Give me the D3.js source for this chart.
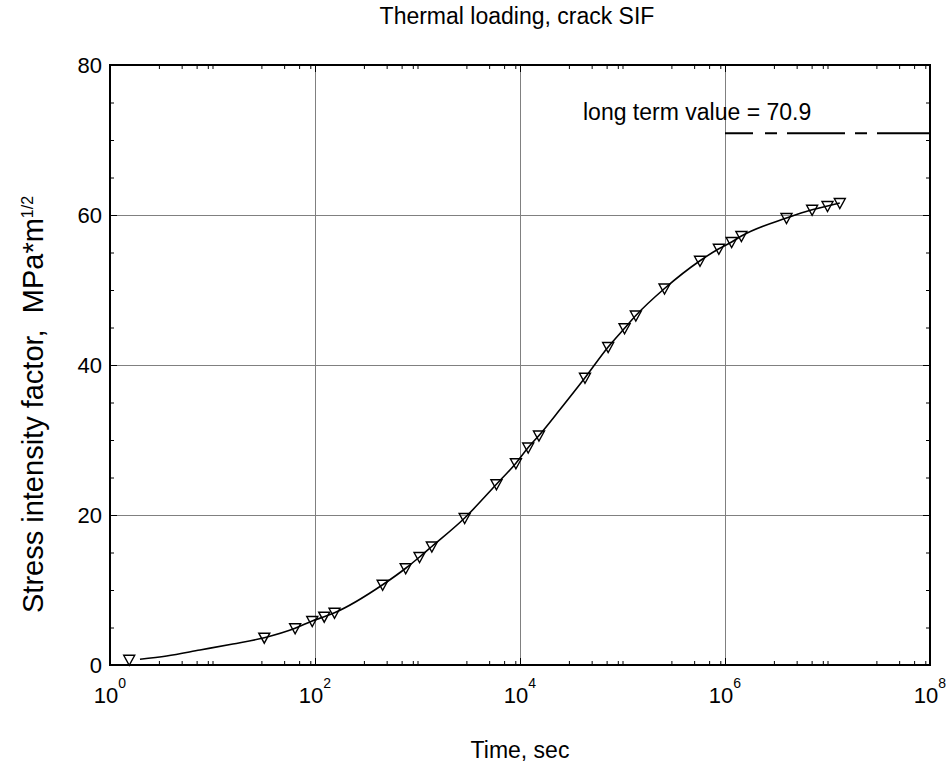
<!DOCTYPE html>
<html>
<head>
<meta charset="utf-8">
<script src="https://cdn.jsdelivr.net/npm/d3@7"></script>
<style>
  html, body { margin: 0; padding: 0; background: #fff; }
  svg { display: block; }
  text { font-family: "Liberation Sans", Arial, Helvetica, sans-serif; fill: #000; }
</style>
</head>
<body>
<svg id="chart" width="950" height="770"></svg>
<script>
// ---------- data ----------
const markT = [1.54, 32, 64, 94, 123, 155, 457, 767, 1047, 1380, 2884, 5890, 9120, 12020, 15310,
               43050, 72440, 104700, 134900, 257000, 570200, 871000, 1161000, 1445000, 3981000,
               7079000, 10000000, 13180000];
const markK = [0.7, 3.64, 4.9, 5.87, 6.44, 6.97, 10.7, 12.9, 14.4, 15.8, 19.6, 24.1, 26.9, 29.0, 30.6,
               38.3, 42.4, 44.9, 46.6, 50.2, 53.9, 55.5, 56.4, 57.2, 59.6,
               60.7, 61.2, 61.6];
const curveT = [1.96, 3.57, 7.55, 15.8, 32, 64, 94, 123, 155, 457, 767, 1047, 1380, 2884, 5890, 9120,
                12020, 15310, 25000, 43050, 72440, 104700, 134900, 257000, 570200, 871000, 1161000,
                1445000, 3981000, 7079000, 10000000, 13180000];
const curveK = [0.76, 1.2, 2.0, 2.8, 3.64, 4.9, 5.87, 6.44, 6.97, 10.7, 12.9, 14.4, 15.8, 19.6, 24.1, 26.9,
                29.0, 30.6, 34.2, 38.3, 42.4, 44.9, 46.6, 50.2, 53.9, 55.5, 56.4,
                57.2, 59.6, 60.7, 61.2, 61.6];
const longTermK = 70.9;
const longTermT = [1e6, 1e8];
const xMajorTicks = [1, 1e2, 1e4, 1e6, 1e8];
const xGridTicks = [1e2, 1e4, 1e6];
const xMinorTicks = [3, 5, 7, 9, 10, 30, 50, 70, 90, 3e2, 5e2, 7e2, 9e2, 1e3, 3e3, 5e3, 7e3, 9e3,
                     3e4, 5e4, 7e4, 9e4, 1e5, 3e5, 5e5, 7e5, 9e5, 3e6, 5e6, 7e6, 9e6, 1e7, 3e7, 5e7, 7e7, 9e7];
const yMajorTicks = [0, 20, 40, 60, 80];
const yGridTicks = [20, 40, 60];
const yMinorTicks = [5, 10, 15, 25, 30, 35, 45, 50, 55, 65, 70, 75];
const titleText = "Thermal loading, crack SIF";
const xLabel = "Time, sec";
const yLabel = "Stress intensity factor,  MPa*m";
const yLabelSup = "1/2";
const longTermLabel = "long term value = 70.9";

// ---------- layout ----------
const L = 110, R = 930, T = 65, B = 665;
const W = R - L, H = B - T;
const svg = d3.select("#chart");

const x = d3.scaleLog().domain([1, 1e8]).range([L, R]);
const y = d3.scaleLinear().domain([0, 80]).range([B, T]);

// grid
const gridColor = "#808080";
svg.append("g").attr("transform", `translate(0,${B})`)
  .call(d3.axisBottom(x).tickValues(xGridTicks).tickSize(-H).tickFormat(""))
  .call(g => g.select(".domain").remove())
  .call(g => g.selectAll("line").attr("stroke", gridColor).attr("stroke-width", 1));
svg.append("g").attr("transform", `translate(${L},0)`)
  .call(d3.axisLeft(y).tickValues(yGridTicks).tickSize(-W).tickFormat(""))
  .call(g => g.select(".domain").remove())
  .call(g => g.selectAll("line").attr("stroke", gridColor).attr("stroke-width", 1));

// ticks (inward) on all four sides
function tickAxis(axis, tr, vals, size) {
  svg.append("g").attr("transform", tr)
    .call(axis.tickValues(vals).tickSize(-size).tickFormat(""))
    .call(g => g.select(".domain").remove())
    .call(g => g.selectAll("line").attr("stroke", "#000").attr("stroke-width", 1));
}
tickAxis(d3.axisBottom(x), `translate(0,${B})`, xMinorTicks, 4);
tickAxis(d3.axisTop(x), `translate(0,${T})`, xMinorTicks, 4);
tickAxis(d3.axisBottom(x), `translate(0,${B})`, xMajorTicks, 7);
tickAxis(d3.axisTop(x), `translate(0,${T})`, xMajorTicks, 7);
tickAxis(d3.axisLeft(y), `translate(${L},0)`, yMinorTicks, 4);
tickAxis(d3.axisRight(y), `translate(${R},0)`, yMinorTicks, 4);
tickAxis(d3.axisLeft(y), `translate(${L},0)`, yMajorTicks, 7);
tickAxis(d3.axisRight(y), `translate(${R},0)`, yMajorTicks, 7);

// frame
svg.append("rect").attr("x", L).attr("y", T).attr("width", W).attr("height", H)
  .attr("fill", "none").attr("stroke", "#000").attr("stroke-width", 2);

// x tick labels with superscript
svg.append("g").selectAll("text").data(xMajorTicks).join("text")
  .attr("x", d => x(d)).attr("y", 703).attr("text-anchor", "middle").attr("font-size", 22)
  .each(function(d) {
    const t = d3.select(this);
    t.append("tspan").text("10");
    t.append("tspan").attr("dy", -15).attr("font-size", 14).text(Math.round(Math.log10(d)));
  });

// y tick labels
svg.append("g").selectAll("text").data(yMajorTicks).join("text")
  .attr("x", 102).attr("y", d => y(d)).attr("dy", "0.36em")
  .attr("text-anchor", "end").attr("font-size", 22).text(d => d);

// curve
const line = d3.line().x((d, i) => x(curveT[i])).y((d, i) => y(curveK[i])).curve(d3.curveMonotoneX);
svg.append("path").datum(curveK).attr("d", line)
  .attr("fill", "none").attr("stroke", "#000").attr("stroke-width", 1.6);

// markers: open downward triangles
const tri = "M-5.5,-4.5 L5.5,-4.5 L0,5.5 Z";
svg.append("g").selectAll("path").data(markK).join("path")
  .attr("transform", (d, i) => `translate(${x(markT[i])},${y(d)})`)
  .attr("d", tri).attr("fill", "none").attr("stroke", "#000").attr("stroke-width", 1.4);

// long term value dashed line
svg.append("line")
  .attr("x1", x(longTermT[0])).attr("x2", x(longTermT[1]))
  .attr("y1", y(longTermK)).attr("y2", y(longTermK))
  .attr("stroke", "#000").attr("stroke-width", 2)
  .attr("stroke-dasharray", "28,12,12,10,58,10,12,10,60");
svg.append("text").attr("x", 583).attr("y", 120).attr("font-size", 23).text(longTermLabel);

// title and axis labels
svg.append("text").attr("x", 517).attr("y", 24).attr("text-anchor", "middle")
  .attr("font-size", 23).text(titleText);
svg.append("text").attr("x", 520).attr("y", 758).attr("text-anchor", "middle")
  .attr("font-size", 23).text(xLabel);
const yl = svg.append("text").attr("transform", `translate(43,613) rotate(-90)`)
  .attr("text-anchor", "start").attr("font-size", 29).style("white-space", "pre");
yl.append("tspan").text(yLabel);
yl.append("tspan").attr("dy", -10).attr("font-size", 16).text(yLabelSup);
</script>
</body>
</html>
